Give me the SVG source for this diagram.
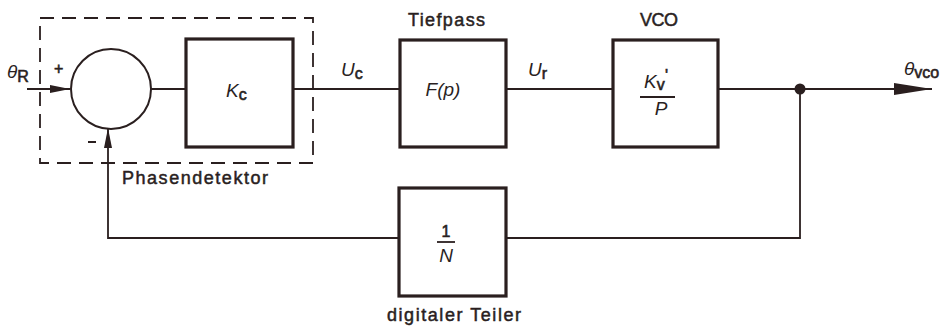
<svg xmlns="http://www.w3.org/2000/svg" width="948" height="327" viewBox="0 0 948 327">
<style>
.box{fill:none;stroke:#2a1f1f;stroke-width:3.2}
.ln{fill:none;stroke:#2a1f1f;stroke-width:1.8}
.dash{fill:none;stroke:#2a1f1f;stroke-width:1.8;stroke-dasharray:14 8}
.lbl{font-family:"Liberation Sans",Arial,sans-serif;font-size:18px;fill:#2a1f1f;stroke:#2a1f1f;stroke-width:0.5}
.it{font-family:"Liberation Sans",Arial,sans-serif;font-size:19px;font-style:italic;fill:#2a1f1f}
.sub{font-family:"Liberation Sans",Arial,sans-serif;font-size:16px;fill:#2a1f1f;stroke:#2a1f1f;stroke-width:0.6}
</style>
<defs>
<marker id="ah" viewBox="0 0 20 8" refX="20" refY="4" markerWidth="20" markerHeight="8" markerUnits="userSpaceOnUse" orient="auto">
<path d="M0,0 L20,4 L0,8 Z" fill="#2a1f1f"/>
</marker>
<marker id="ahb" viewBox="0 0 38 12" refX="38" refY="6" markerWidth="38" markerHeight="12" markerUnits="userSpaceOnUse" orient="auto">
<path d="M0,0 L38,6 L0,12 Z" fill="#2a1f1f"/>
</marker>
</defs>
<rect width="948" height="327" fill="#ffffff"/>

<g id="connectors">
<line class="ln" x1="27" y1="89" x2="70" y2="89" marker-end="url(#ah)"/>
<line class="ln" x1="151" y1="89" x2="186" y2="89"/>
<line class="ln" x1="293" y1="89" x2="400" y2="89"/>
<line class="ln" x1="506" y1="89" x2="613" y2="89"/>
<line class="ln" x1="718" y1="89" x2="932" y2="89" marker-end="url(#ahb)"/>
<circle cx="800" cy="89" r="5.5" fill="#2a1f1f"/>
<polyline class="ln" points="800,89 800,238 506,238"/>
<polyline class="ln" points="399,238 108,238 108,128" marker-end="url(#ah)"/>
</g>

<g id="phasendetektor">
<rect class="dash" x="40" y="18" width="273" height="145"/>
<text class="lbl" x="122" y="184" textLength="146" lengthAdjust="spacing">Phasendetektor</text>
</g>

<g id="summierer">
<circle cx="111" cy="89" r="40" fill="none" stroke="#2a1f1f" stroke-width="2"/>
<text class="sub" x="54" y="74">+</text>
<line x1="88" y1="142" x2="96" y2="142" stroke="#2a1f1f" stroke-width="2"/>
</g>

<g id="theta-r">
<text class="it" x="7" y="78">θ<tspan class="sub" font-style="normal" dy="4">R</tspan></text>
</g>

<g id="kc">
<rect class="box" x="186" y="39" width="107" height="108"/>
<text class="it" x="226" y="97">K<tspan class="sub" font-style="normal" dy="3">c</tspan></text>
</g>

<g id="uc">
<text class="it" x="341" y="76">U<tspan class="sub" font-style="normal" dy="3">c</tspan></text>
</g>

<g id="tiefpass">
<rect class="box" x="400" y="40" width="106" height="107"/>
<text class="lbl" x="408" y="26" textLength="77" lengthAdjust="spacing">Tiefpass</text>
<text class="it" x="443" y="96" text-anchor="middle">F(p)</text>
</g>

<g id="ur">
<text class="it" x="528" y="76">U<tspan class="sub" font-style="normal" dy="3">r</tspan></text>
</g>

<g id="vco">
<rect class="box" x="613" y="40" width="105" height="107"/>
<text class="lbl" x="640" y="26" textLength="38" lengthAdjust="spacing">VCO</text>
<text class="it" x="644" y="88">K<tspan class="sub" font-style="normal" dy="2">v</tspan></text>
<text class="sub" x="665" y="81">'</text>
<line x1="640" y1="97" x2="675" y2="97" stroke="#2a1f1f" stroke-width="1.8"/>
<text class="it" x="661" y="115" text-anchor="middle">P</text>
</g>

<g id="theta-vco">
<text class="it" x="904" y="75">θ<tspan class="sub" font-style="normal" font-size="14" dy="3">vco</tspan></text>
</g>

<g id="teiler">
<rect class="box" x="399" y="188" width="107" height="108"/>
<text class="sub" x="446" y="237" text-anchor="middle">1</text>
<line x1="437" y1="242" x2="455" y2="242" stroke="#2a1f1f" stroke-width="1.8"/>
<text class="it" x="446" y="262" text-anchor="middle">N</text>
<text class="lbl" x="387" y="321" textLength="134" lengthAdjust="spacing">digitaler Teiler</text>
</g>
</svg>
